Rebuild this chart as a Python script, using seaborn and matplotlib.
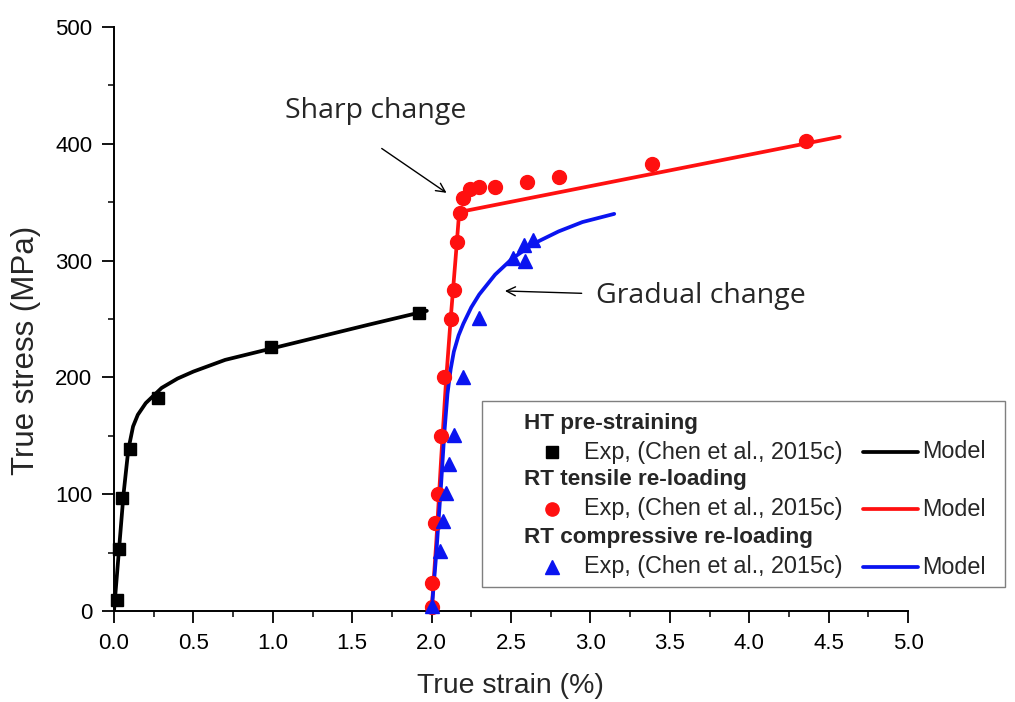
import matplotlib
matplotlib.use("Agg")
import matplotlib.pyplot as plt
from matplotlib.patches import Rectangle
from matplotlib.lines import Line2D
from matplotlib.ticker import MultipleLocator
import seaborn as sns
import pandas as pd

# ---------------- data ----------------
ht_exp_x = [0.02, 0.03, 0.05, 0.10, 0.28, 0.99, 1.92]
ht_exp_y = [9, 53, 97, 139, 182, 226, 255]
ht_model_x = [0.0, 0.03, 0.06, 0.09, 0.12, 0.15, 0.20, 0.30, 0.40, 0.50, 0.70, 1.00, 1.30, 1.60, 1.97]
ht_model_y = [0, 50, 100, 138, 158, 168, 178, 191, 199, 205, 215, 225, 235, 245, 257]

rt_ten_exp_x = [2.00, 2.00, 2.02, 2.04, 2.06, 2.08, 2.12, 2.14, 2.16, 2.18, 2.20, 2.24, 2.30, 2.40, 2.60, 2.80, 3.39, 4.36]
rt_ten_exp_y = [3, 24, 75, 100, 150, 200, 250, 275, 316, 341, 354, 361, 363, 363, 367, 372, 383, 402]
rt_ten_model_x = [2.00, 2.03, 2.06, 2.09, 2.12, 2.15, 2.17, 2.19, 4.57]
rt_ten_model_y = [0, 60, 130, 195, 250, 300, 335, 342, 406]

rt_comp_exp_x = [2.00, 2.05, 2.07, 2.09, 2.11, 2.14, 2.20, 2.30, 2.51, 2.58, 2.59, 2.64]
rt_comp_exp_y = [4, 51, 77, 101, 126, 151, 200, 251, 302, 313, 300, 318]
rt_comp_model_x = [2.00, 2.03, 2.06, 2.08, 2.10, 2.12, 2.14, 2.17, 2.20, 2.25, 2.30, 2.40, 2.51, 2.65, 2.80, 2.95, 3.15]
rt_comp_model_y = [0, 50, 109, 152, 186, 207, 222, 236, 246, 260, 271, 288, 302, 315, 325, 333, 340]

group_titles = ["HT pre-straining", "RT tensile re-loading", "RT compressive re-loading"]
exp_label = "Exp, (Chen et al., 2015c)"
model_label = "Model"
colors = ["#000000", "#ff1010", "#0a14f0"]
markers = ["s", "o", "^"]
marker_sizes = [9, 10, 10.5]

x_ticks = [0.0, 0.5, 1.0, 1.5, 2.0, 2.5, 3.0, 3.5, 4.0, 4.5, 5.0]
y_ticks = [0, 100, 200, 300, 400, 500]

# ---------------- style ----------------
sns.set_style("ticks")
plt.rcParams["font.family"] = ["Liberation Sans", "DejaVu Sans"]

W, H = 1015, 702
fig = plt.figure(figsize=(W / 100, H / 100), dpi=100)
ax = fig.add_axes([114 / W, 1 - 611 / H, (908 - 114) / W, (611 - 27) / H])

exp_sets = [(ht_exp_x, ht_exp_y), (rt_ten_exp_x, rt_ten_exp_y), (rt_comp_exp_x, rt_comp_exp_y)]
model_sets = [(ht_model_x, ht_model_y), (rt_ten_model_x, rt_ten_model_y), (rt_comp_model_x, rt_comp_model_y)]

for i in range(3):
    mx, my = model_sets[i]
    dfm = pd.DataFrame({"x": mx, "y": my})
    sns.lineplot(data=dfm, x="x", y="y", ax=ax, color=colors[i], lw=2.7, sort=False,
                 estimator=None, zorder=2)
for i in range(3):
    ex, ey = exp_sets[i]
    dfe = pd.DataFrame({"x": ex, "y": ey})
    ax.plot(dfe["x"], dfe["y"], ls="none", marker=markers[i], ms=marker_sizes[i],
            color=colors[i], mec=colors[i], zorder=3, clip_on=False)

ax.set_xlim(0, 5.0)
ax.set_ylim(0, 500)
ax.set_xticks(x_ticks)
ax.set_xticklabels([f"{v:.1f}" for v in x_ticks])
ax.set_yticks(y_ticks)
ax.set_yticklabels([str(v) for v in y_ticks])
ax.xaxis.set_minor_locator(MultipleLocator(0.25))
ax.yaxis.set_minor_locator(MultipleLocator(50))
ax.tick_params(which="major", direction="out", length=8.5, width=1.3, labelsize=16,
               pad=7, colors="black")
ax.tick_params(which="minor", direction="out", length=4.5, width=1.3)
for s in ["top", "right"]:
    ax.spines[s].set_visible(False)
for s in ["left", "bottom"]:
    ax.spines[s].set_linewidth(1.4)
    ax.spines[s].set_color("black")

ax.set_xlabel("True strain (%)", fontsize=20.5)
ax.set_ylabel("True stress (MPa)", fontsize=22.5)
ax.xaxis.set_label_coords((510 - 114) / 794, (611 - 686) / 584)
ax.yaxis.set_label_coords((26 - 114) / 794, (611 - 350) / 584)
ax.xaxis.label.set_va("center")
ax.yaxis.label.set_va("center")

# annotations
ann_font = ["Open Sans", "DejaVu Sans"]
ax.annotate("", xy=(2.094, 358), xytext=(1.686, 396),
            arrowprops=dict(arrowstyle="->", color="black", lw=1.0, shrinkA=0, shrinkB=0,
                            mutation_scale=16))
ax.text(1.65, 428, "Sharp change", fontsize=20.5, family=ann_font, ha="center", va="center")
ax.annotate("", xy=(2.462, 274), xytext=(2.945, 272),
            arrowprops=dict(arrowstyle="->", color="black", lw=1.0, shrinkA=0, shrinkB=0,
                            mutation_scale=16))
ax.text(3.694, 270, "Gradual change", fontsize=20.5, family=ann_font, ha="center", va="center")

# legend (manual, in figure pixel coordinates)
def fx(px):
    return px / W

def fy(py):
    return 1 - py / H

box = Rectangle((fx(482), fy(587)), fx(1005) - fx(482), fy(401) - fy(587),
                transform=fig.transFigure, facecolor="white", edgecolor="#7f7f7f",
                lw=1.0, zorder=5)
fig.add_artist(box)
head_y = [423, 480, 538]
row_y = [452, 509, 567]
for i in range(3):
    fig.text(fx(524), fy(head_y[i]), group_titles[i], fontsize=16.2, fontweight="bold",
             ha="left", va="center", zorder=6)
    fig.add_artist(Line2D([fx(552)], [fy(row_y[i])], transform=fig.transFigure,
                          ls="none", marker=markers[i], ms=marker_sizes[i] - 0.5,
                          color=colors[i], zorder=6))
    fig.text(fx(584), fy(row_y[i]), exp_label, fontsize=16.8, ha="left", va="center", zorder=6)
    fig.add_artist(Line2D([fx(863), fx(918)], [fy(row_y[i]), fy(row_y[i])],
                          transform=fig.transFigure, color=colors[i], lw=2.7, zorder=6))
    fig.text(fx(922), fy(row_y[i]), model_label, fontsize=16.8, ha="left", va="center", zorder=6)

fig.savefig("out.png", dpi=100)
